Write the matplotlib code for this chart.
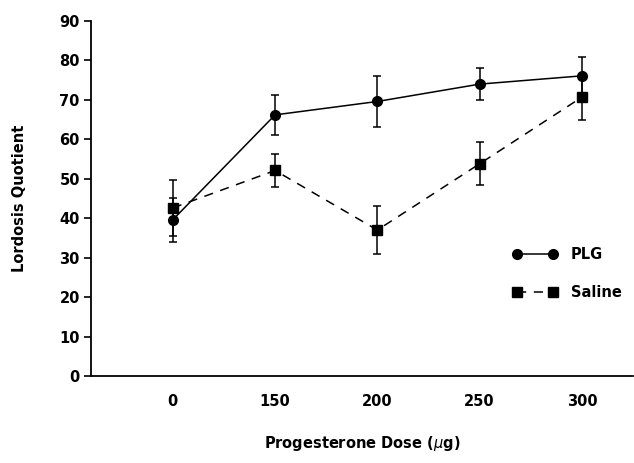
import matplotlib.pyplot as plt
from matplotlib.lines import Line2D
import numpy as np

doses = ["0", "150", "200", "250", "300"]
plg_mean = [39.6, 66.2, 69.6, 74.0, 76.1]
plg_err = [5.6, 5.0, 6.5, 4.0, 4.7]
saline_mean = [42.6, 52.1, 37.0, 53.8, 70.7]
saline_err = [7.1, 4.3, 6.2, 5.5, 5.8]

plt.rcParams['font.family'] = ['DejaVu Sans']

fig = plt.figure(figsize=(6.34, 4.63), dpi=100)
ax = fig.add_axes([0.1435, 0.188, 0.855, 0.7666])

xs = np.arange(1, len(doses) + 1)
dash = (0, (6, 5))

ax.errorbar(xs, plg_mean, yerr=plg_err, color='black', marker='o', markersize=7,
            linestyle='-', linewidth=1.1, elinewidth=1.1, capsize=3, capthick=1.1)
ax.errorbar(xs, saline_mean, yerr=saline_err, color='black', marker='s', markersize=6.5,
            linestyle=dash, linewidth=1.1, elinewidth=1.1, capsize=3, capthick=1.1)

ax.set_xlim(0.2, 5.5)
ax.set_ylim(0, 90)
ax.set_yticks(range(0, 91, 10))
ax.set_xticks(xs)
ax.set_xticklabels(doses)

for s in ['top', 'right']:
    ax.spines[s].set_visible(False)
ax.spines['left'].set_linewidth(1.3)
ax.spines['bottom'].set_linewidth(1.3)

ax.tick_params(axis='y', direction='out', length=5, width=1.2, labelsize=10.5, pad=3)
ax.tick_params(axis='x', length=0, labelsize=10.5, pad=13)
for lbl in ax.get_xticklabels() + ax.get_yticklabels():
    lbl.set_fontweight('bold')

ax.set_ylabel('Lordosis Quotient', fontsize=10.5, fontweight='bold', labelpad=23)
ax.set_xlabel(r'Progesterone Dose ($\mu$g)', fontsize=10.5, fontweight='bold', labelpad=18)

# legend handles without the error bars
handles = [
    Line2D([], [], color='black', marker='o', markersize=7, linestyle='-', linewidth=1.1),
    Line2D([], [], color='black', marker='s', markersize=6.5, linestyle=dash, linewidth=1.1),
]
ax.legend(handles, ['PLG', 'Saline'], loc='upper left', bbox_to_anchor=(0.777, 0.363),
          frameon=False, numpoints=2, handlelength=3.1, labelspacing=1.6,
          handletextpad=0.9, borderpad=0, borderaxespad=0,
          prop={'weight': 'bold', 'size': 10.5})

fig.savefig('out.png', dpi=100)
